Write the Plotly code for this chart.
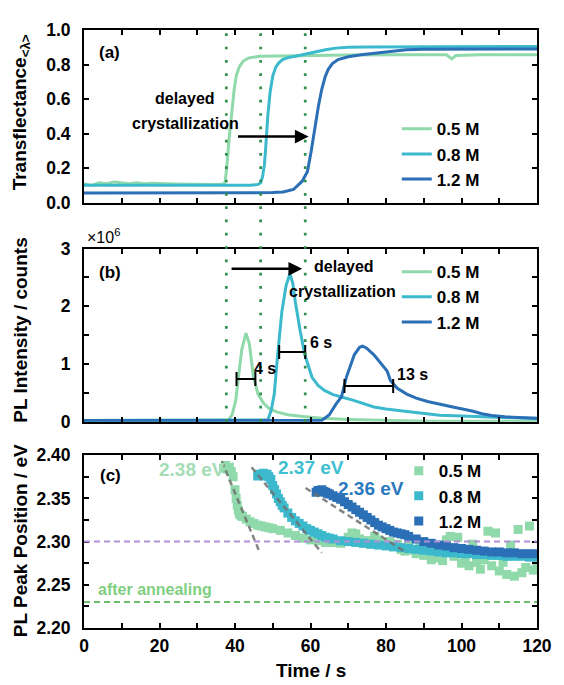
import plotly.graph_objects as go

FONT = "Liberation Sans, Arial, sans-serif"
C05 = "#8fd9aa"
C08 = "#3cb9cc"
C12 = "#2b6fb6"

# ---------------- data: panel (a) transflectance ----------------
ta_05 = [0, 2, 4, 6, 8, 10, 12, 14, 16, 18, 20, 24, 28, 32, 36, 37.3, 37.8, 38.4, 39.1, 39.8,
         40.4, 41.2, 42.2, 43.5, 46.5, 55, 70, 85, 96, 97.4, 98.5, 105, 120]
va_05 = [0.11, 0.10, 0.115, 0.11, 0.12, 0.115, 0.11, 0.115, 0.11, 0.112, 0.11, 0.108, 0.107, 0.107,
         0.105, 0.11, 0.2, 0.36, 0.51, 0.66, 0.74, 0.79, 0.82, 0.837, 0.848, 0.852, 0.855, 0.856,
         0.856, 0.833, 0.852, 0.856, 0.857]
ta_08 = [0, 5, 10, 20, 30, 40, 44, 46, 46.8, 47.3, 47.8, 48.2, 48.7, 49.3, 50, 50.8, 51.6, 52.6,
         54, 56, 57.8, 60, 62, 64, 66.7, 70, 75, 90, 105, 120]
va_08 = [0.10, 0.10, 0.102, 0.10, 0.10, 0.10, 0.101, 0.105, 0.115, 0.15, 0.22, 0.34, 0.506, 0.64,
         0.734, 0.785, 0.81, 0.829, 0.84, 0.848, 0.857, 0.866, 0.876, 0.886, 0.895, 0.9, 0.902,
         0.903, 0.904, 0.905]
ta_12 = [0, 10, 20, 30, 40, 45, 50, 52.7, 55.5, 57.8, 59.2, 60.2, 61.2, 62.1, 63, 63.9, 64.7, 65.8,
         67.3, 70, 73.4, 77, 80, 85.4, 90, 100, 120]
va_12 = [0.055, 0.055, 0.054, 0.055, 0.056, 0.057, 0.058, 0.062, 0.076, 0.124, 0.18, 0.30, 0.449,
         0.56, 0.658, 0.73, 0.772, 0.805, 0.829, 0.845, 0.857, 0.866, 0.875, 0.886, 0.889, 0.89, 0.89]

# ---------------- data: panel (b) PL intensity (x10^6 counts) ----------------
tb_05 = [0, 10, 20, 30, 37, 38.3, 39.2, 40.2, 40.9, 41.8, 42.9, 43.8, 44.9, 46.1, 47.5, 49, 51, 54,
         58, 63, 70, 80, 90, 120]
vb_05 = [0.02, 0.02, 0.02, 0.02, 0.02, 0.03, 0.12, 0.37, 0.77, 1.25, 1.535, 1.35, 0.767, 0.48, 0.33,
         0.23, 0.17, 0.12, 0.09, 0.06, 0.04, 0.02, 0.01, 0.01]
tb_08 = [0, 20, 40, 47, 48.7, 49.6, 50.4, 51.3, 52.4, 53.5, 54.55, 55.3, 56, 57.3, 58.5, 60.4, 62,
         63.8, 66, 68.2, 71, 76.8, 80, 85, 90, 94.2, 100, 110, 118.4, 120]
vb_08 = [0.02, 0.02, 0.02, 0.02, 0.03, 0.2, 0.48, 1.164, 1.90, 2.35, 2.57, 2.4, 2.07, 1.56, 1.16,
         0.77, 0.63, 0.54, 0.47, 0.43, 0.38, 0.256, 0.22, 0.18, 0.15, 0.113, 0.1, 0.075, 0.056, 0.055]
tb_12 = [0, 20, 40, 60, 62.9, 65, 66.7, 68.2, 69.5, 71.6, 73, 73.8, 74.8, 76.8, 78.5, 80.3, 81.2, 83,
         85.5, 88, 91, 94.2, 98, 102.8, 105.4, 108, 111.5, 115, 119.3, 120]
vb_12 = [0.02, 0.02, 0.02, 0.02, 0.02, 0.12, 0.30, 0.43, 0.77, 1.16, 1.29, 1.31, 1.28, 1.16, 1.02,
         0.88, 0.71, 0.58, 0.48, 0.41, 0.35, 0.31, 0.25, 0.187, 0.14, 0.11, 0.085, 0.075, 0.065, 0.06]

# FWHM bars: start, end, height, label
fwhm_x0 = [40.4, 51.7, 69.0]
fwhm_x1 = [45.4, 58.6, 81.9]
fwhm_y = [0.74, 1.21, 0.62]
fwhm_lbl = ["4 s", "6 s", "13 s"]
fwhm_lbl_x = [44.6, 59.4, 82.3]
fwhm_lbl_y = [0.93, 1.37, 0.82]

# crystallization onset times (dotted lines)
onset_t = [37.7, 46.8, 58.6]

# ---------------- data: panel (c) PL peak position (eV) ----------------
tc_05 = [37, 37.5, 38, 38.5, 39, 39.5, 40, 40.3, 40.6, 40.9, 41.2, 41.6, 42, 43, 44, 45, 46, 47, 48,
         49, 50, 52, 54, 56, 58, 60, 62, 64, 66, 68, 70, 71, 72, 73, 74, 75, 76, 77, 78, 79, 80, 81,
         82, 83, 84, 85, 86, 87, 88, 89, 90, 91, 92, 93, 94, 95, 96, 97, 98, 99, 100, 101, 102, 103,
         104, 105, 106, 107, 108, 109, 110, 111, 112, 113, 114, 115, 116, 117, 118, 119, 120]
vc_05 = [2.385, 2.388, 2.384, 2.386, 2.381, 2.375, 2.36, 2.35, 2.342, 2.336, 2.332, 2.33, 2.329,
         2.326, 2.323, 2.321, 2.319, 2.318, 2.317, 2.316, 2.315, 2.313, 2.31, 2.307, 2.304, 2.302,
         2.301, 2.299, 2.299, 2.298, 2.305, 2.31, 2.309, 2.303, 2.299, 2.301, 2.297, 2.306, 2.302,
         2.298, 2.296, 2.30, 2.294, 2.297, 2.291, 2.289, 2.296, 2.29, 2.286, 2.293, 2.284, 2.29,
         2.279, 2.286, 2.281, 2.278, 2.302, 2.306, 2.283, 2.305, 2.275, 2.28, 2.272, 2.297, 2.276,
         2.268, 2.279, 2.312, 2.272, 2.31, 2.266, 2.276, 2.262, 2.296, 2.26, 2.314, 2.264, 2.27,
         2.318, 2.267, 2.272]
tc_08 = [46, 46.5, 47, 47.5, 48, 48.5, 49, 49.5, 50, 50.5, 51, 51.5, 52, 52.5, 53, 54, 55, 56, 57,
         58, 59, 60, 61, 62, 63, 64, 65, 66, 68, 70, 72, 74, 76, 78, 80, 82, 84, 86, 88, 90, 92, 94,
         96, 98, 100, 102, 104, 106, 108, 110, 112, 114, 116, 118, 120]
vc_08 = [2.376, 2.378, 2.377, 2.379, 2.376, 2.378, 2.375, 2.372, 2.365, 2.36, 2.355, 2.35, 2.346,
         2.342, 2.339, 2.333, 2.328, 2.324, 2.321, 2.318, 2.315, 2.313, 2.311, 2.309, 2.307, 2.305,
         2.304, 2.303, 2.301, 2.300, 2.299, 2.298, 2.297, 2.296, 2.295, 2.294, 2.293, 2.292, 2.291,
         2.290, 2.289, 2.288, 2.287, 2.287, 2.286, 2.286, 2.285, 2.285, 2.284, 2.284, 2.283, 2.283,
         2.283, 2.282, 2.282]
tc_12 = [61.5, 62, 62.5, 63, 63.5, 64, 64.5, 65, 66, 67, 68, 69, 70, 71, 72, 73, 74, 75, 76, 77, 78,
         79, 80, 81, 82, 83, 84, 85, 86, 88, 90, 92, 94, 96, 98, 100, 102, 104, 106, 108, 110, 112,
         114, 116, 118, 120]
vc_12 = [2.357, 2.359, 2.358, 2.36, 2.358, 2.357, 2.356, 2.355, 2.353, 2.351, 2.349, 2.346, 2.343,
         2.34, 2.337, 2.334, 2.331, 2.328, 2.325, 2.322, 2.319, 2.317, 2.315, 2.313, 2.311, 2.310,
         2.309, 2.308, 2.306, 2.303, 2.300, 2.298, 2.296, 2.295, 2.293, 2.292, 2.291, 2.290, 2.289,
         2.288, 2.288, 2.287, 2.287, 2.286, 2.286, 2.286]

# tangent (dashed) lines: x0, y0, x1, y1
tan_x0 = [36.5, 44.4, 58.7]
tan_y0 = [2.393, 2.386, 2.362]
tan_x1 = [46.5, 63.0, 85.5]
tan_y1 = [2.288, 2.287, 2.287]

ref_levels = [2.30, 2.23]
peak_lbl = ["2.38 eV", "2.37 eV", "2.36 eV"]
peak_lbl_x = [28.7, 60.1, 76.0]
peak_lbl_y = [2.383, 2.3856, 2.361]

names = ["0.5 M", "0.8 M", "1.2 M"]
colors = [C05, C08, C12]

# ---------------- layout geometry (page has an 8px body margin) ----------------
OFF = 8
W, H = 564 - OFF, 685 - OFF
ML, MR, MT, MB = 76, 18, 12, 57
PH = H - MT - MB
PW = W - ML - MR


def py2paper(py):  # screen pixel -> paper fraction
    return (H - MB - (py - OFF)) / PH


def px2paper(px):
    return (px - OFF - ML) / PW


dom_a = [py2paper(195.5), 1.0]
dom_b = [py2paper(418.3), py2paper(242.3)]
dom_c = [0.0, py2paper(452.3)]

fig = go.Figure()

# panel (a)
for t, v, n, c in zip([ta_05, ta_08, ta_12], [va_05, va_08, va_12], names, colors):
    fig.add_trace(go.Scatter(x=t, y=v, mode="lines", name=n, line=dict(color=c, width=3),
                             xaxis="x", yaxis="y", legend="legend"))
# panel (b)
for t, v, n, c in zip([tb_05, tb_08, tb_12], [vb_05, vb_08, vb_12], names, colors):
    fig.add_trace(go.Scatter(x=t, y=v, mode="lines", name=n, line=dict(color=c, width=3),
                             xaxis="x2", yaxis="y2", legend="legend2"))
for x0, x1, y in zip(fwhm_x0, fwhm_x1, fwhm_y):
    fig.add_trace(go.Scatter(x=[x0, x1], y=[y, y], mode="lines+markers", showlegend=False,
                             line=dict(color="black", width=2),
                             marker=dict(symbol="line-ns-open", size=10,
                                         line=dict(color="black", width=2)),
                             xaxis="x2", yaxis="y2"))
# panel (c)
for t, v, n, c in zip([tc_05, tc_08, tc_12], [vc_05, vc_08, vc_12], names, colors):
    fig.add_trace(go.Scatter(x=t, y=v, mode="markers", name=n,
                             marker=dict(symbol="square", size=9, color=c, line=dict(width=0)),
                             xaxis="x3", yaxis="y3", legend="legend3"))
for x0, y0, x1, y1 in zip(tan_x0, tan_y0, tan_x1, tan_y1):
    fig.add_trace(go.Scatter(x=[x0, x1], y=[y0, y1], mode="lines", showlegend=False,
                             line=dict(color="rgba(110,110,110,0.85)", width=2.5, dash="6px,4px"),
                             xaxis="x3", yaxis="y3"))

axis_common = dict(showline=True, mirror="ticks", linewidth=2, linecolor="black", ticks="inside",
                   ticklen=5, tickwidth=1.5, tickcolor="black", showgrid=False, zeroline=False,
                   tickfont=dict(family=FONT, size=17.5, color="black", weight="bold"))

xt = list(range(0, 121, 10))
xtt = [str(v) if v % 20 == 0 else "" for v in xt]

fig.update_layout(
    width=W, height=H,
    margin=dict(l=ML, r=MR, t=MT, b=MB, pad=0),
    plot_bgcolor="white", paper_bgcolor="white",
    font=dict(family=FONT, color="black"),
    xaxis=dict(domain=[0, 1], range=[0, 120], anchor="y", tickvals=xt, showticklabels=False,
               **axis_common),
    yaxis=dict(domain=dom_a, range=[0, 1.0], anchor="x", tickvals=[0, 0.2, 0.4, 0.6, 0.8, 1.0],
               ticktext=["0.0", "0.2", "0.4", "0.6", "0.8", "1.0"], ticklabelstandoff=8,
               **axis_common),
    xaxis2=dict(domain=[0, 1], range=[0, 120], anchor="y2", tickvals=xt, showticklabels=False,
                **axis_common),
    yaxis2=dict(domain=dom_b, range=[0, 3], anchor="x2", tickvals=[0, 0.5, 1, 1.5, 2, 2.5, 3],
                ticktext=["0", "", "1", "", "2", "", "3"], ticklabelstandoff=8, **axis_common),
    xaxis3=dict(domain=[0, 1], range=[0, 120], anchor="y3", tickvals=xt, ticktext=xtt,
                ticklabelstandoff=1, **axis_common),
    yaxis3=dict(domain=dom_c, range=[2.20, 2.40], anchor="x3",
                tickvals=[2.20, 2.225, 2.25, 2.275, 2.30, 2.325, 2.35, 2.375, 2.40],
                ticktext=["2.20", "", "2.25", "", "2.30", "", "2.35", "", "2.40"],
                ticklabelstandoff=8, **axis_common),
    showlegend=True,
)

leg_common = dict(xanchor="left", yanchor="top", bgcolor="rgba(0,0,0,0)", borderwidth=0,
                  font=dict(family=FONT, size=17, color="black", weight="bold"),
                  itemwidth=30, tracegroupgap=0)
fig.update_layout(
    legend=dict(x=px2paper(403), y=py2paper(102.6), **leg_common),
    legend2=dict(x=px2paper(403), y=py2paper(247.9), **leg_common),
    legend3=dict(x=px2paper(405), y=py2paper(450.3), **leg_common),
)

shapes = []
for t in onset_t:
    shapes.append(dict(type="line", xref="x", yref="paper", x0=t, x1=t, y0=dom_b[0], y1=1.0,
                       line=dict(color="#2f8f4a", width=2.7, dash="2.7px,10.6px")))
shapes.append(dict(type="line", xref="x3 domain", yref="y3", x0=0, x1=1, y0=ref_levels[0],
                   y1=ref_levels[0], line=dict(color="#b28fd6", width=2, dash="6px,4px")))
shapes.append(dict(type="line", xref="x3 domain", yref="y3", x0=0, x1=1, y0=ref_levels[1],
                   y1=ref_levels[1], line=dict(color="#6cc06c", width=2, dash="6px,4px")))
fig.update_layout(shapes=shapes)

ann = []


def txt(x, y, s, xref, yref, size=16, color="black", xanchor="center", weight="bold", **kw):
    ann.append(dict(x=x, y=y, text=s, xref=xref, yref=yref, showarrow=False, xanchor=xanchor,
                    yanchor="middle", font=dict(family=FONT, size=size, color=color, weight=weight),
                    **kw))


# panel labels
txt(6.8, 0.87, "(a)", "x", "y", size=17)
txt(7.0, 2.58, "(b)", "x2", "y2", size=17)
txt(7.0, 2.376, "(c)", "x3", "y3", size=17)
# panel (a) arrow text
txt(26.8, 0.605, "delayed", "x", "y")
txt(26.9, 0.459, "crystallization", "x", "y")
ann.append(dict(x=59.5, y=0.383, ax=40.4, ay=0.383, xref="x", yref="y", axref="x", ayref="y",
                text="", showarrow=True, arrowhead=2, arrowsize=1.1, arrowwidth=2.5,
                arrowcolor="black", standoff=0, startstandoff=0))
# panel (b)
ann.append(dict(x=57.8, y=2.65, ax=38.7, ay=2.65, xref="x2", yref="y2", axref="x2", ayref="y2",
                text="", showarrow=True, arrowhead=2, arrowsize=1.1, arrowwidth=2.5,
                arrowcolor="black", standoff=0, startstandoff=0))
txt(60.4, 2.69, "delayed", "x2", "y2", xanchor="left")
txt(68.6, 2.25, "crystallization", "x2", "y2")
for x, y, s in zip(fwhm_lbl_x, fwhm_lbl_y, fwhm_lbl):
    txt(x, y, s, "x2", "y2", xanchor="left")
txt(px2paper(85), py2paper(229), "×10<sup>6</sup>", "paper", "paper", size=16, xanchor="left",
    weight="normal")
# panel (c)
for x, y, s, c in zip(peak_lbl_x, peak_lbl_y, peak_lbl, ["#a3dcb5", "#3ebfd0", "#2a78bd"]):
    txt(x, y, s, "x3", "y3", size=19, color=c)
txt(3.2, 2.244, "after annealing", "x3", "y3", size=16, color="#7fcf7f", xanchor="left")

# axis titles
tx = px2paper(19.5)
for yy, s in zip([104, 325, 539],
                 ["Transflectance<sub>&lt;λ&gt;</sub>", "PL Intensity / counts",
                  "PL Peak Position / eV"]):
    txt(tx, py2paper(yy), s, "paper", "paper", size=19, textangle=-90)
txt(0.5, py2paper(671), "Time / s", "paper", "paper", size=19)

fig.update_layout(annotations=ann)

fig.write_html("out.html")
